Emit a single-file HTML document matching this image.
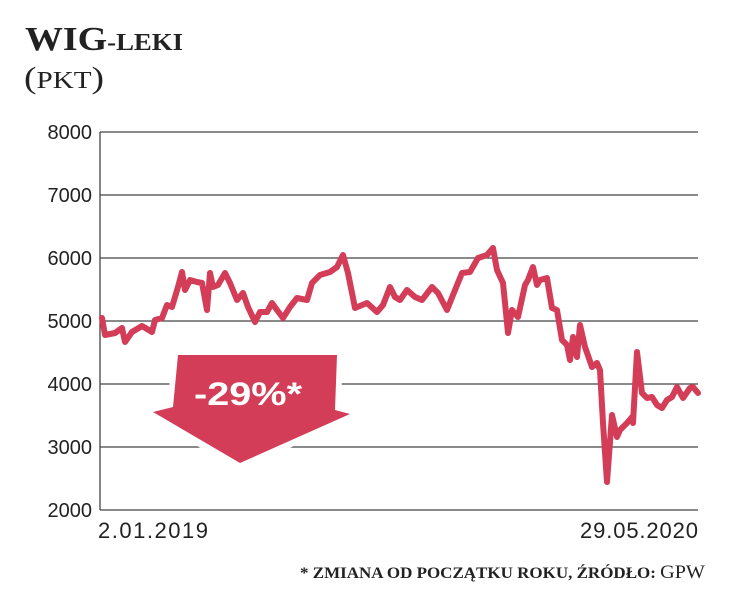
<!DOCTYPE html>
<html><head><meta charset="utf-8"><style>
body{margin:0;background:#fff;width:734px;height:593px;overflow:hidden}
</style></head><body>
<svg width="734" height="593" viewBox="0 0 734 593" xmlns="http://www.w3.org/2000/svg">
<text x="25" y="50" font-family="Liberation Serif, serif" font-weight="bold" font-size="34" fill="#222" textLength="158" lengthAdjust="spacingAndGlyphs">WIG<tspan font-size="24">-LEKI</tspan></text>
<text x="24" y="88" font-family="Liberation Serif, serif" font-size="31" fill="#222" textLength="80" lengthAdjust="spacingAndGlyphs">(<tspan font-size="24">PKT</tspan>)</text>
<g stroke="#444" stroke-width="1.3">
<line x1="100" y1="132" x2="698" y2="132"/><line x1="100" y1="195" x2="698" y2="195"/>
<line x1="100" y1="258" x2="698" y2="258"/><line x1="100" y1="321" x2="698" y2="321"/>
<line x1="100" y1="384" x2="698" y2="384"/><line x1="100" y1="447" x2="698" y2="447"/>
<line x1="100" y1="510" x2="698" y2="510"/><line x1="100" y1="132" x2="100" y2="510"/>
</g>
<g font-family="Liberation Sans, sans-serif" font-size="20" fill="#222" text-anchor="end">
<text x="92" y="139">8000</text><text x="92" y="202">7000</text><text x="92" y="265">6000</text>
<text x="92" y="328">5000</text><text x="92" y="391">4000</text><text x="92" y="454">3000</text><text x="92" y="517">2000</text>
</g>
<g font-family="Liberation Sans, sans-serif" font-size="22" fill="#222">
<text x="98" y="538" textLength="110">2.01.2019</text>
<text x="698" y="538" text-anchor="end" textLength="118">29.05.2020</text>
</g>
<text x="705" y="578" text-anchor="end" font-family="Liberation Serif, serif" font-size="16" font-weight="bold" fill="#222" textLength="405" lengthAdjust="spacingAndGlyphs">* ZMIANA OD POCZĄTKU ROKU, ŹRÓDŁO: <tspan font-size="19" font-weight="normal">GPW</tspan></text>
<polyline fill="none" stroke="#d43d58" stroke-width="6" stroke-linejoin="round" stroke-linecap="round" points="102,318 105,335 115,333 122,328 125,342 132,332 142,326 152,332 155,320 162,318 167,305 172,307 178,287 182,272 185,290 190,280 197,282 202,283 207,310 210,273 213,287 218,285 225,273 230,283 237,300 243,293 248,307 255,322 260,312 267,312 272,303 277,310 283,318 290,307 297,298 307,300 312,283 320,275 330,272 337,267 343,255 348,273 355,308 367,303 377,312 383,305 390,287 395,297 400,300 407,290 415,297 422,300 432,287 438,293 447,310 453,295 462,273 470,272 478,258 487,255 493,248 497,270 503,283 508,333 512,310 518,317 525,285 528,280 533,267 537,285 540,280 547,278 552,308 557,310 562,340 567,345 570,360 573,337 577,357 580,325 585,347 592,367 597,363 600,370 603,423 607,482 612,415 617,437 620,430 627,423 632,417 633,423 637,352 642,393 647,398 652,397 657,405 662,408 667,400 672,397 677,387 683,398 690,388 693,387 698,393"/>
<polygon points="176,352 340,352 338,408 357,413 240,468 148,413 170,406" fill="#fff" stroke="#fff" stroke-width="6" stroke-linejoin="round" opacity="0.95"/>
<polygon points="178,355 337,355 335,410 350,414 240,463 153,412 173,407" fill="#d43d58"/>
<text x="248" y="405" text-anchor="middle" font-family="Liberation Sans, sans-serif" font-weight="bold" font-size="32" fill="#fff" textLength="108" lengthAdjust="spacingAndGlyphs">-29%*</text>
</svg>
</body></html>
